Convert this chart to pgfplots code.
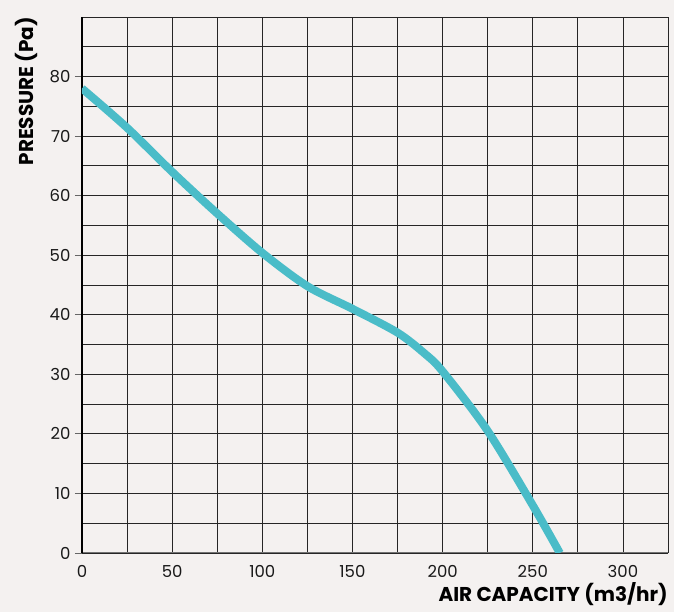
\documentclass[border=0pt]{standalone}
\usepackage{pgfplots}
\pgfplotsset{compat=1.18}
\usepackage{fontspec}
\setmainfont{Poppins}
\definecolor{bg}{HTML}{F4F1F0}
\definecolor{curve}{HTML}{4ABCC8}
\begin{document}
\begin{tikzpicture}
\fill[bg] (-82pt,-59pt) rectangle (592pt,553pt);
\begin{axis}[
  at={(0pt,0pt)}, anchor=south west,
  scale only axis, width=586pt, height=536pt,
  xmin=0, xmax=325, ymin=0, ymax=90,
  axis lines=left, axis line style={-},
  x axis line style={draw=black!55, line width=1pt},
  y axis line style={draw=black, line width=1.6pt},
  xtick={0,50,...,300}, minor xtick={25,75,...,325},
  ytick={0,10,...,80}, minor ytick={5,15,...,85,90},
  grid=both,
  major grid style={draw=black!85, line width=0.8pt},
  minor grid style={draw=black!85, line width=0.8pt},
  xtick style={draw=none},
  ytick style={draw=black!60, line width=0.8pt},
  major tick length=7pt, minor tick length=0pt,
  tick align=outside,
  /pgf/number format/assume math mode=true,
  ticklabel style={font=\fontsize{16.5}{18}\selectfont, text=black!90},
  yticklabel style={xshift=-1pt},
  xticklabel style={yshift=-2pt},
  xlabel={AIR CAPACITY (m3/hr)},
  ylabel={PRESSURE (Pa)},
  label style={font=\fontsize{20}{22}\selectfont\bfseries},
  xlabel style={at={(axis description cs:1,0)}, anchor=north east, yshift=-29pt, inner sep=0pt},
  ylabel style={at={(axis description cs:-0.095,1)}, anchor=east, rotate=0, inner sep=0pt},
]
\addplot[curve, line width=8pt, smooth, tension=0.5, line cap=butt] coordinates {
(0,78) (25,71.4) (50,64) (75,57) (100,50.4) (125,44.8) (150,41) (175,37) (190,33.5) (200,30.5) (225,20.5) (250,8) (265,0)
};
\end{axis}
\end{tikzpicture}
\end{document}
